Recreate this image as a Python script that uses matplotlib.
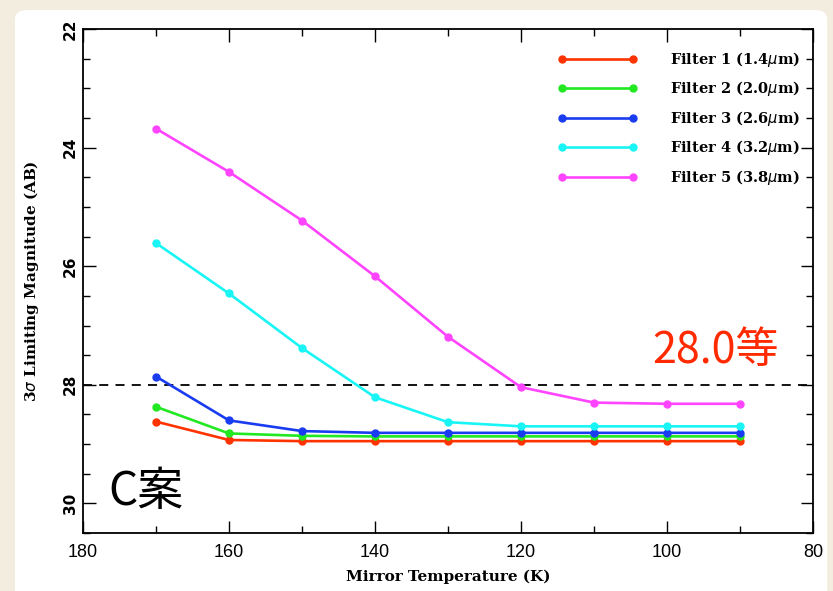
import numpy as np
import matplotlib.pyplot as plt
from matplotlib.patches import FancyBboxPatch

# mirror temperature (K)
temps = [170, 160, 150, 140, 130, 120, 110, 100, 90]

# 3 sigma limiting magnitude (AB) for each filter
filter1 = [28.62, 28.93, 28.95, 28.95, 28.95, 28.95, 28.95, 28.95, 28.95]
filter2 = [28.37, 28.82, 28.86, 28.87, 28.87, 28.87, 28.87, 28.87, 28.87]
filter3 = [27.86, 28.60, 28.78, 28.81, 28.81, 28.81, 28.81, 28.81, 28.81]
filter4 = [25.61, 26.46, 27.38, 28.21, 28.63, 28.70, 28.70, 28.70, 28.70]
filter5 = [23.68, 24.41, 25.23, 26.17, 27.19, 28.04, 28.30, 28.32, 28.32]

labels = ['Filter 1 (1.4$\\mu$m)', 'Filter 2 (2.0$\\mu$m)', 'Filter 3 (2.6$\\mu$m)',
          'Filter 4 (3.2$\\mu$m)', 'Filter 5 (3.8$\\mu$m)']
colors = ['#ff3300', '#22e822', '#1a3cf0', '#19f5f5', '#ff44ff']
limit = 28.0

fig = plt.figure(figsize=(8.33, 5.91), dpi=100)
fig.patch.set_facecolor('#f3eddf')
# white card behind the plot
card = FancyBboxPatch((0.018, -0.05), 0.975, 1.033, boxstyle='round,pad=0,rounding_size=0.015',
                      transform=fig.transFigure, facecolor='white', edgecolor='none', zorder=-10)
fig.patches.append(card)

ax = fig.add_axes([0.0996, 0.098, 0.8764, 0.853])
ax.set_facecolor('white')

for ys, c, lab in zip([filter1, filter2, filter3, filter4, filter5], colors, labels):
    ax.plot(temps, ys, color=c, lw=1.9, marker='o', ms=5, label=lab)

ax.axhline(limit, color='black', lw=1.3, ls=(0, (5, 4)), zorder=1)

ax.set_xlim(180, 80)
ax.set_ylim(30.5, 22)
ax.set_xticks(np.arange(180, 79, -20))
ax.set_xticks(np.arange(170, 80, -20), minor=True)
ax.set_yticks([22, 24, 26, 28, 30])
ax.set_yticks(np.arange(22, 30.6, 0.5), minor=True)
ax.tick_params(which='both', direction='in', top=True, right=True, width=1)
ax.tick_params(which='major', length=9)
ax.tick_params(which='minor', length=5)
ax.tick_params(axis='x', pad=8)
for t in ax.get_xticklabels():
    t.set_fontfamily('Liberation Sans')
    t.set_fontsize(13)
for t in ax.get_yticklabels():
    t.set_fontfamily('DejaVu Sans')
    t.set_fontweight('bold')
    t.set_fontsize(11)
    t.set_rotation(90)
    t.set_va('center')
for s in ax.spines.values():
    s.set_linewidth(1.3)

ax.set_xlabel('Mirror Temperature (K)', family='DejaVu Serif', fontweight='bold', fontsize=11, labelpad=6)
ax.set_ylabel('3$\\sigma$ Limiting Magnitude (AB)', family='DejaVu Serif', fontweight='bold', fontsize=11, labelpad=16)

leg = ax.legend(loc='upper right', bbox_to_anchor=(1.0, 0.985), frameon=False, numpoints=2,
                handlelength=5.5, handletextpad=2.2, labelspacing=0.72,
                prop={'family': 'DejaVu Serif', 'weight': 'bold', 'size': 10.5})

ax.text(0.78, 0.337, '28.0等', transform=ax.transAxes, color='#ff2a00', fontsize=31,
        family=['Noto Sans CJK JP', 'DejaVu Sans'])
ax.text(0.035, 0.055, 'C案', transform=ax.transAxes, color='black', fontsize=33,
        family=['Noto Sans CJK JP', 'DejaVu Sans'])

fig.savefig('out.png', dpi=100, facecolor=fig.get_facecolor())
